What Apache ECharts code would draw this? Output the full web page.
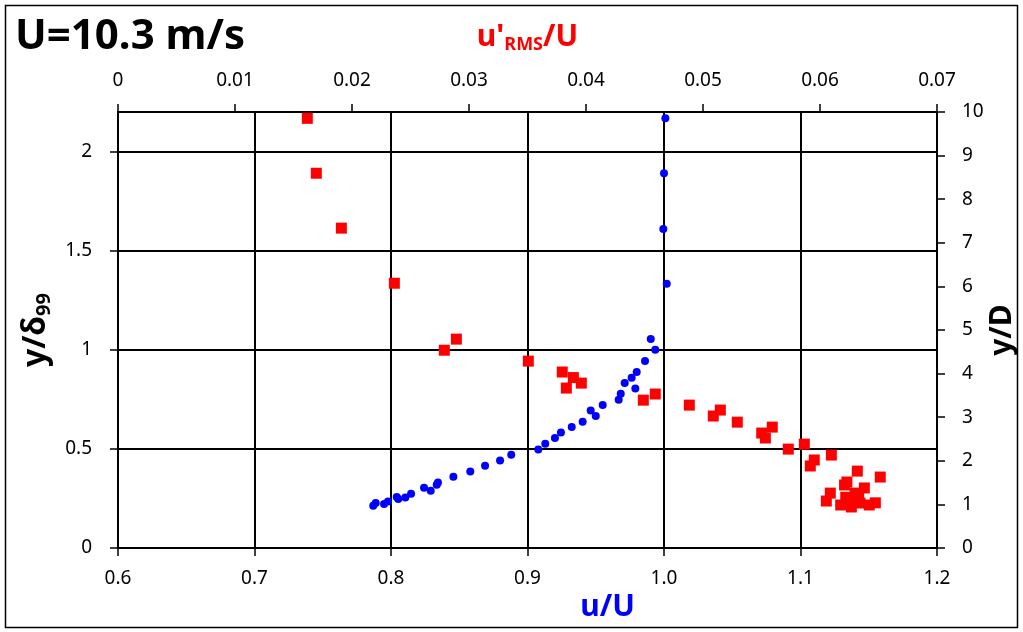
<!DOCTYPE html>
<html>
<head>
<meta charset="utf-8">
<script src="https://cdn.jsdelivr.net/npm/echarts@6/dist/echarts.min.js"></script>
<style>html,body{margin:0;padding:0;background:#fff}#c{width:1023px;height:632px}</style>
</head>
<body>
<div id="c"></div>
<script>
// Mean velocity u/U vs y/delta99 (blue circles)
const blueU = [1.001,1.000,0.9995,1.002,0.9903,0.9936,0.9861,0.980,0.9763,0.9712,0.979,0.9683,0.9668,0.9551,0.9463,0.950,0.9404,0.9324,0.9245,0.9201,0.913,0.9079,0.8881,0.8799,0.8689,0.8581,0.8457,0.8344,0.8335,0.8242,0.8291,0.8147,0.8042,0.8053,0.8105,0.7978,0.7949,0.7888,0.7870];
const blueY = [2.168,1.891,1.610,1.333,1.055,1.000,0.943,0.888,0.859,0.832,0.805,0.778,0.748,0.721,0.694,0.666,0.637,0.610,0.583,0.555,0.526,0.497,0.470,0.442,0.415,0.386,0.360,0.331,0.319,0.304,0.289,0.274,0.257,0.247,0.255,0.235,0.222,0.227,0.213];
// Turbulence intensity u'RMS/U vs y/delta99 (red squares)
const redU = [0.01618,0.01695,0.01909,0.02362,0.02892,0.02789,0.03507,0.03797,0.03892,0.0396,0.03832,0.04592,0.0449,0.04883,0.05148,0.05088,0.05293,0.05592,0.05502,0.05533,0.05729,0.05866,0.05951,0.05917,0.06097,0.06319,0.06515,0.0623,0.0621,0.06379,0.06088,0.06054,0.0622,0.063,0.06177,0.06268,0.06342,0.06421,0.06473,0.06285,0.0633];
const redY = [2.168,1.891,1.614,1.336,1.054,0.998,0.943,0.888,0.860,0.832,0.807,0.777,0.746,0.721,0.696,0.666,0.635,0.610,0.580,0.555,0.499,0.524,0.444,0.414,0.469,0.388,0.358,0.333,0.318,0.303,0.277,0.237,0.256,0.277,0.217,0.207,0.227,0.217,0.228,0.244,0.260];

const titleText = 'U=10.3 m/s';

const blueData = blueU.map((u,i)=>[u, blueY[i]]);
const redData = redU.map((u,i)=>[u, redY[i]]);

const FONT = 'Noto Sans';
const lab = {color:'#000', fontSize:19, fontFamily:FONT};
const axLine = {show:true, onZero:false, lineStyle:{color:'#000', width:2}};
const tick = {show:true, length:8, lineStyle:{color:'#000', width:1.5}};

const chart = echarts.init(document.getElementById('c'));
chart.setOption({
  animation:false,
  backgroundColor:'#fff',
  grid:{left:118, top:112, right:86, bottom:84, containLabel:false, outerBoundsMode:'none'},
  graphic:[
    {type:'rect', shape:{x:5.5,y:5.5,width:1012,height:622}, style:{fill:'none', stroke:'#000', lineWidth:1.5}, z:-1},
    {type:'text', left:15, top:16, style:{text:titleText, font:'bold 42px "Noto Sans"', fill:'#000'}}
  ],
  xAxis:[
    {type:'value', position:'bottom', min:0.6, max:1.2, interval:0.1,
     axisLine:axLine, axisTick:tick,
     axisLabel:Object.assign({margin:21, formatter:v=>v.toFixed(1)}, lab),
     splitLine:{show:true, lineStyle:{color:'#000', width:2}},
     name:'u/U', nameLocation:'middle', nameGap:32,
     nameTextStyle:{color:'#0000FF', fontSize:30, fontWeight:'bold', fontFamily:FONT, padding:[0,0,0,160]}},
    {type:'value', position:'top', min:0, max:0.07, interval:0.01,
     axisLine:axLine, axisTick:tick,
     axisLabel:Object.assign({margin:22, formatter:v=>v===0?'0':v.toFixed(2)}, lab),
     splitLine:{show:false},
     name:"{a|u'}{b|RMS}{a|/U}", nameLocation:'middle', nameGap:58,
     nameTextStyle:{rich:{
       a:{color:'#FF0000', fontSize:30, fontWeight:'bold', fontFamily:FONT},
       b:{color:'#FF0000', fontSize:18, fontWeight:'bold', fontFamily:FONT, padding:[16,0,0,0]}
     }}}
  ],
  yAxis:[
    {type:'value', position:'left', min:0, max:2.2, interval:0.5,
     axisLine:axLine, axisTick:tick,
     axisLabel:Object.assign({margin:26, showMaxLabel:false}, lab),
     splitLine:{show:true, lineStyle:{color:'#000', width:2}},
     name:'{a|y/δ}{b|99}', nameLocation:'middle', nameGap:56,
     nameTextStyle:{rich:{
       a:{color:'#000', fontSize:32, fontWeight:'bold', fontFamily:FONT},
       b:{color:'#000', fontSize:20, fontWeight:'bold', fontFamily:FONT, padding:[16,0,0,0]}
     }}},
    {type:'value', position:'right', min:0, max:10, interval:1,
     axisLine:axLine, axisTick:tick,
     axisLabel:Object.assign({margin:25}, lab),
     splitLine:{show:false},
     name:'y/D', nameLocation:'middle', nameGap:50, nameMoveOverlap:false,
     nameTextStyle:{color:'#000', fontSize:30, fontWeight:'bold', fontFamily:FONT}}
  ],
  series:[
    {type:'scatter', name:"u'RMS/U", xAxisIndex:1, yAxisIndex:0, data:redData,
     symbol:'rect', symbolSize:11, itemStyle:{color:'#FF0000', opacity:1}, z:3},
    {type:'scatter', name:'u/U', xAxisIndex:0, yAxisIndex:0, data:blueData,
     symbol:'circle', symbolSize:8, itemStyle:{color:'#0000FF', opacity:1}, z:4}
  ]
});
</script>
</body>
</html>
